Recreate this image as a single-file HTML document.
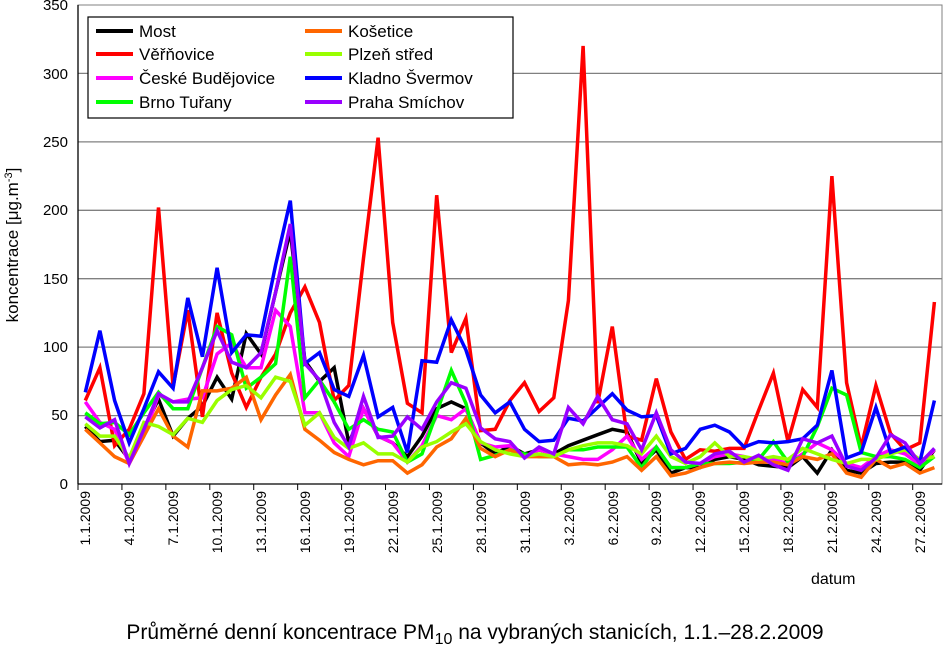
<!DOCTYPE html>
<html><head><meta charset="utf-8"><style>
body{margin:0;background:#fff;width:950px;height:657px;overflow:hidden;font-family:"Liberation Sans",sans-serif}
svg text{font-family:"Liberation Sans",sans-serif}
</style></head><body>
<svg id="s" width="950" height="657" xmlns="http://www.w3.org/2000/svg">
<rect x="78" y="5" width="864" height="479" fill="#fff" stroke="#808080"/>
<g stroke="#808080" stroke-width="1.3">
<line x1="78" x2="942" y1="415.6" y2="415.6"/><line x1="78" x2="942" y1="347.1" y2="347.1"/>
<line x1="78" x2="942" y1="278.7" y2="278.7"/><line x1="78" x2="942" y1="210.3" y2="210.3"/>
<line x1="78" x2="942" y1="141.9" y2="141.9"/><line x1="78" x2="942" y1="73.4" y2="73.4"/>
</g>
<line x1="78" x2="78" y1="5" y2="484" stroke="#000" stroke-width="1.3"/>
<line x1="78" x2="942" y1="484" y2="484" stroke="#000" stroke-width="1.3"/>
<g font-size="15" text-anchor="end">
<text x="68" y="489">0</text><text x="68" y="420">50</text><text x="68" y="352">100</text>
<text x="68" y="284">150</text><text x="68" y="215">200</text><text x="68" y="147">250</text>
<text x="68" y="79">300</text><text x="68" y="10">350</text>
</g>
<text transform="translate(18,245) rotate(-90)" font-size="17" text-anchor="middle">koncentrace [μg.m<tspan dy="-6" font-size="11">-3</tspan><tspan dy="6">]</tspan></text>
<g id="ticks" stroke="#000" stroke-width="1"></g>
<g font-size="14" text-anchor="end">
<text transform="translate(90,491) rotate(-90)">1.1.2009</text>
<text transform="translate(134,491) rotate(-90)">4.1.2009</text>
<text transform="translate(178,491) rotate(-90)">7.1.2009</text>
<text transform="translate(222,491) rotate(-90)">10.1.2009</text>
<text transform="translate(266,491) rotate(-90)">13.1.2009</text>
<text transform="translate(310,491) rotate(-90)">16.1.2009</text>
<text transform="translate(354,491) rotate(-90)">19.1.2009</text>
<text transform="translate(398,491) rotate(-90)">22.1.2009</text>
<text transform="translate(442,491) rotate(-90)">25.1.2009</text>
<text transform="translate(486,491) rotate(-90)">28.1.2009</text>
<text transform="translate(530,491) rotate(-90)">31.1.2009</text>
<text transform="translate(574,491) rotate(-90)">3.2.2009</text>
<text transform="translate(618,491) rotate(-90)">6.2.2009</text>
<text transform="translate(661,491) rotate(-90)">9.2.2009</text>
<text transform="translate(705,491) rotate(-90)">12.2.2009</text>
<text transform="translate(749,491) rotate(-90)">15.2.2009</text>
<text transform="translate(793,491) rotate(-90)">18.2.2009</text>
<text transform="translate(837,491) rotate(-90)">21.2.2009</text>
<text transform="translate(881,491) rotate(-90)">24.2.2009</text>
<text transform="translate(925,491) rotate(-90)">27.2.2009</text>
</g>
<text x="811" y="584" font-size="16">datum</text>
<text x="475" y="639" font-size="21" text-anchor="middle">Průměrné denní koncentrace PM<tspan dy="5" font-size="16">10</tspan><tspan dy="-5"> na vybraných stanicích, 1.1.–28.2.2009</tspan></text>
<g id="lines" fill="none" stroke-width="3.5" stroke-linejoin="miter"></g>
<rect x="88" y="17" width="425" height="101" fill="#fff" stroke="#000" stroke-width="1.2"/>
<g stroke-width="4">
<line x1="96" x2="133" y1="31" y2="31" stroke="#000"/>
<line x1="96" x2="133" y1="54" y2="54" stroke="#ff0000"/>
<line x1="96" x2="133" y1="78" y2="78" stroke="#ff00ff"/>
<line x1="96" x2="133" y1="102" y2="102" stroke="#00ff00"/>
<line x1="305" x2="342" y1="31" y2="31" stroke="#ff6600"/>
<line x1="305" x2="342" y1="54" y2="54" stroke="#99ff00"/>
<line x1="305" x2="342" y1="78" y2="78" stroke="#0000ff"/>
<line x1="305" x2="342" y1="102" y2="102" stroke="#9900ff"/>
</g>
<g font-size="17">
<text x="139" y="37">Most</text><text x="139" y="60">Věřňovice</text>
<text x="139" y="84">České Budějovice</text><text x="139" y="108">Brno Tuřany</text>
<text x="348" y="37">Košetice</text><text x="348" y="60">Plzeň střed</text>
<text x="348" y="84">Kladno Švermov</text><text x="348" y="108">Praha Smíchov</text>
</g>
</svg>
<script>
var D={
"#000000":[42,31,32,18,40,62,35,48,57,78,62,110,95,140,185,90,75,85,30,55,35,30,20,35,55,60,55,30,22,28,22,25,22,28,32,36,40,38,15,25,8,12,12,18,20,18,14,13,12,20,8,25,10,8,15,16,16,10,25],
"#ff0000":[61,85,28,40,66,202,71,127,49,125,81,56,78,95,125,144,118,61,72,165,253,118,59,52,211,96,121,39,40,61,74,53,63,134,320,59,115,35,32,77,38,18,25,24,26,26,54,81,31,69,56,225,74,27,72,37,25,30,133],
"#ff00ff":[60,45,40,15,35,65,60,62,63,95,103,85,85,127,115,52,52,30,20,55,35,30,16,28,50,47,55,30,27,28,20,25,22,20,18,18,25,35,18,27,12,12,15,20,22,20,17,18,15,22,30,25,15,12,20,25,22,14,25],
"#00ff00":[52,44,45,36,52,67,55,55,85,115,109,70,78,88,166,63,76,60,40,47,40,38,16,22,52,83,59,18,21,25,22,20,20,25,25,27,27,27,12,27,12,12,15,15,15,16,18,31,16,20,42,70,65,23,20,20,18,12,20],
"#ff6600":[40,30,20,15,35,55,35,27,68,68,70,78,47,65,80,40,32,23,18,14,17,17,8,14,27,33,48,26,20,25,20,20,20,14,15,14,16,20,10,20,6,8,12,15,16,15,16,16,14,20,18,22,8,5,18,12,15,8,12],
"#99ff00":[44,35,35,19,45,42,36,48,45,61,69,72,63,78,75,43,52,34,26,30,22,22,16,27,31,38,44,31,25,22,20,22,20,25,28,30,30,28,22,35,20,15,20,30,20,20,18,20,18,26,22,18,15,18,18,22,25,18,20],
"#0000ff":[67,112,61,30,55,82,70,136,93,158,96,109,108,160,207,88,96,69,64,94,49,56,23,90,89,120,98,65,52,60,40,31,32,48,46,56,66,54,49,50,22,26,40,43,38,27,31,30,31,33,43,83,19,23,56,23,27,16,61],
"#9900ff":[49,41,47,15,40,66,60,60,85,112,89,85,96,140,190,88,76,45,27,64,34,35,49,40,60,74,70,41,33,31,19,27,22,56,44,64,47,44,25,52,25,16,15,22,24,16,21,14,10,33,30,35,13,10,19,36,30,15,26]};
var g=document.getElementById("lines"),ns="http://www.w3.org/2000/svg";
for(var c in D){var p=D[c].map(function(v,i){return (85.3+14.64*i).toFixed(1)+","+(484-v*1.3686).toFixed(1)}).join(" ");
var e=document.createElementNS(ns,"polyline");e.setAttribute("points",p);e.setAttribute("stroke",c);g.appendChild(e);}
var t=document.getElementById("ticks");
for(var i=0;i<=59;i+=3){var x=78+i*14.644;var l=document.createElementNS(ns,"line");l.setAttribute("x1",x);l.setAttribute("x2",x);l.setAttribute("y1",484);l.setAttribute("y2",490);t.appendChild(l);}
</script>
</body></html>
